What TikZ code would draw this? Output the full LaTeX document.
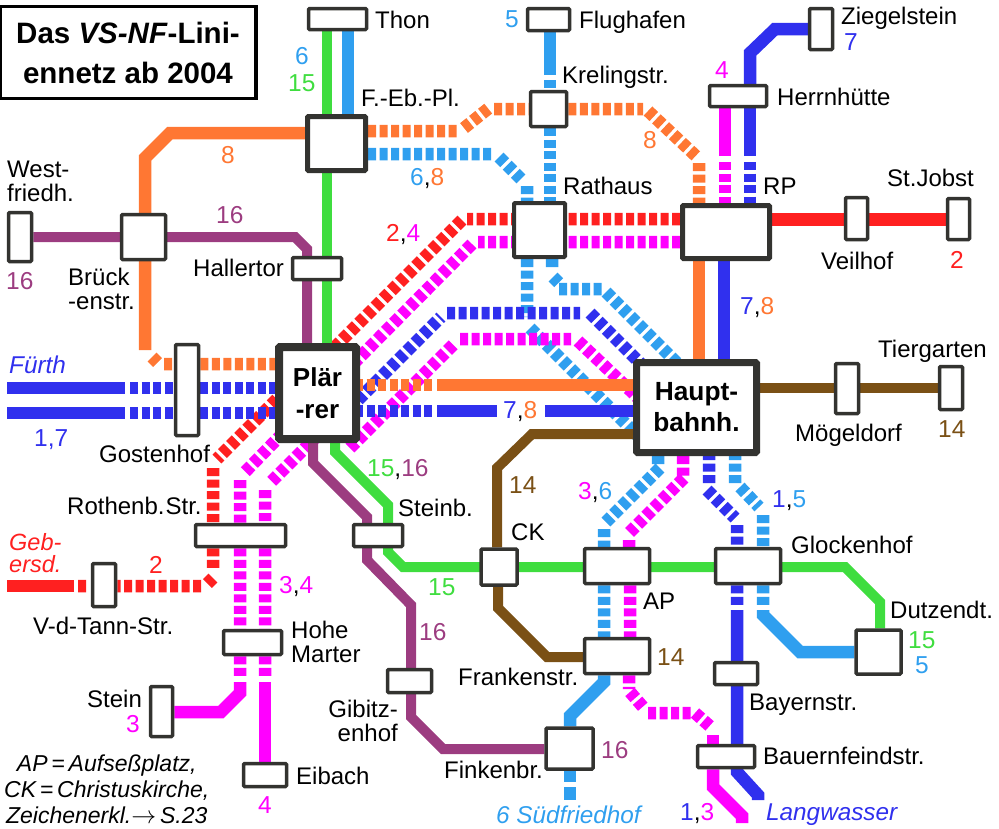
\documentclass[tikz,border=0pt]{standalone}
\usepackage{fontspec}
\setmainfont{Liberation Sans}
\definecolor{cred}{HTML}{FF2020}
\definecolor{cmag}{HTML}{FF00FF}
\definecolor{cblue}{HTML}{3030EE}
\definecolor{csky}{HTML}{2F9FEF}
\definecolor{corange}{HTML}{FF7733}
\definecolor{cgreen}{HTML}{3FDD3F}
\definecolor{cpurple}{HTML}{9C3C80}
\definecolor{cbrown}{HTML}{7A5015}
\definecolor{cframe}{HTML}{333330}
\pgfdeclarelayer{lines}
\pgfsetlayers{lines,main}
\tikzset{
  stn/.style 2 args={draw=cframe,fill=white,line width=3.5pt,rounded corners=1pt,inner sep=0pt,
    minimum width=#1pt,minimum height=#2pt},
  lab/.style={anchor=base west,inner sep=0pt,font=\fontsize{24}{24}\selectfont},
  ital/.style={anchor=base west,inner sep=0pt,font=\fontsize{24.3}{24}\selectfont\itshape},
  num/.style={anchor=base west,inner sep=0pt,font=\fontsize{24.5}{24}\selectfont},
  wide/.style={line width=12.5pt},
  narrow/.style={line width=10pt},
  tunnel/.style={line width=12.5pt,dash pattern=on 8pt off 3.5pt},
}
\begin{document}
\begin{tikzpicture}[x=1pt,y=-1pt]
  \useasboundingbox (0,0) rectangle (999,828);

  \node[draw=black,line width=3.5pt,minimum width=256pt,minimum height=92pt,align=center,inner sep=0pt,
    font=\fontsize{29.5}{40}\selectfont\bfseries] (title) at (128,52.5) {Das \textit{VS-NF}-Lini-\\ennetz ab 2004};

  \node[stn={58}{21}] (thon) at (337.5,19) {};
  \node[stn={42}{22}] (flug) at (548.5,19.5) {};
  \node[stn={23}{41}] (zieg) at (821,29) {};
  \node[stn={57}{21}] (herrn) at (738,96) {};
  \node[stn={36}{35}] (krel) at (548.5,109) {};
  \node[stn={58}{54},line width=5pt] (feb) at (336.5,143.5) {};
  \node[stn={23}{49}] (west) at (20,237) {};
  \node[stn={44}{45}] (brueck) at (143.5,237) {};
  \node[stn={49}{22}] (hall) at (317,268.5) {};
  \node[stn={51}{54},line width=4pt] (rath) at (539.5,230) {};
  \node[stn={87}{53},line width=5pt] (rp) at (726,232) {};
  \node[stn={22}{42}] (veil) at (856.5,218.5) {};
  \node[stn={22}{41}] (jobst) at (958.5,219) {};
  \node[stn={77}{92},line width=8pt,align=center,font=\fontsize{26}{32}\selectfont\bfseries] (plaer) at (317.5,393) {Plär\\-rer};
  \node[stn={23}{91}] (gost) at (187,390) {};
  \node[stn={120}{90},line width=7pt,align=center,font=\fontsize{26.3}{31}\selectfont\bfseries] (hbf) at (696.5,407.5) {Haupt-\\bahnh.};
  \node[stn={23}{50}] (moeg) at (847,388.5) {};
  \node[stn={23}{43}] (tier) at (951,388) {};
  \node[stn={90}{22}] (roth) at (240.5,535.5) {};
  \node[stn={49}{22}] (stb) at (378,535.5) {};
  \node[stn={36}{36}] (ck) at (499,567) {};
  \node[stn={65}{35}] (ap) at (617,566) {};
  \node[stn={65}{35}] (glock) at (748,566) {};
  \node[stn={45}{44}] (dutz) at (878.5,652) {};
  \node[stn={65}{35}] (frank) at (617,656) {};
  \node[stn={43}{22}] (bay) at (736,673.5) {};
  \node[stn={57}{22}] (bauern) at (726,756.5) {};
  \node[stn={47}{41}] (fink) at (569.5,748.5) {};
  \node[stn={44}{23}] (gib) at (409.5,681) {};
  \node[stn={23}{43}] (tann) at (104,585) {};
  \node[stn={58}{24}] (hohe) at (252.5,642.5) {};
  \node[stn={22}{50}] (stein) at (161.5,711.5) {};
  \node[stn={43}{23}] (eib) at (265,775) {};

  \coordinate (fuerthA) at (7,388);
  \coordinate (fuerthB) at (7,413);
  \coordinate (gebersd) at (7,586);
  \coordinate (suedfr) at (570,800);

  \begin{pgfonlayer}{lines}
    \draw[wide,csky] (thon.south -| 348,0) -- (feb.north -| 348,0);
    \draw[wide,csky] (flug.south -| 550,0) -- (550,75);
    \draw[tunnel,csky] (550,80) -- (krel.north -| 550,0) (krel.south -| 550,0) -- (rath.north -| 550,0);
    \draw[tunnel,csky] (rath.south -| 552,0) -- (552,270) (553,277) -- (559,283) (559,289) -- (601.5,289)
      (606,292) -- (hbf.north -| 673,0) -- ++(10,10);
    \draw[tunnel,csky] (feb.east |- 0,154) -- (494,154) (499,157) -- (523,181) (527,186) -- (rath.north -| 527,0);
    \draw[tunnel,csky] (rath.south -| 527,0) -- (527,317) (530,328) -- (hbf.west |- 0,431) -- ++(10,10);
    \draw[tunnel,csky] (hbf.south -| 658,0) -- (658,464) (660,468) -- (606,522) (604,529) -- (ap.north -| 604,0)
      (ap.south -| 604,0) -- (frank.north -| 604,0);
    \draw[wide,csky] (frank.south -| 604,0) -- (604,682) -- (570,716) -- (fink.north -| 570,0);
    \draw[wide,csky] (fink.south -| 570,0) -- (570,782) (570,787) -- (suedfr);
    \draw[tunnel,csky] (hbf.south -| 735,0) ++(0,-4) -- (735,484) (740,487) -- (759,507) (763,515) -- (glock.north -| 763,0)
      (glock.south -| 763,0) -- (763,605);
    \draw[wide,csky] (763,610) -- (763,615) -- (800,652) -- (dutz.west |- 0,652);

    \draw[wide,cmag] (herrn.south -| 725,0) -- (725,156);
    \draw[tunnel,cmag] (725,162) -- (rp.north -| 725,0);
    \draw[tunnel,cmag] (rp.west |- 0,242) -- (478,242) (472,244) -- (plaer.east |- 0,357) -- ++(-10,10);
    \draw[tunnel,cmag] (plaer.south -| 273,0) ++(10,-10) -- (245,472) (240,480) -- (roth.north -| 240,0)
      (roth.south -| 240,0) -- (hohe.north -| 240,0) (hohe.south -| 240,0) -- (240,676);
    \draw[wide,cmag] (240,682) -- (240,693) -- (221,712) -- (stein.east |- 0,712);
    \draw[tunnel,cmag] (plaer.south -| 310,0) ++(8,-8) -- (270,483) (265,490) -- (roth.north -| 265,0)
      (roth.south -| 265,0) -- (hohe.north -| 265,0) (hohe.south -| 265,0) -- (265,676);
    \draw[wide,cmag] (265,682) -- (eib.north -| 265,0);
    \draw[tunnel,cmag] (plaer.east |- 0,438) ++(-10,10) -- (455,343) (460,339) -- (571,339)
      (578,341) -- (hbf.west |- 0,393) -- ++(10,10);
    \draw[tunnel,cmag] (hbf.south -| 683,0) -- (683,475.5) (684,478) -- (628,534) (629,540) -- (ap.north -| 629,0)
      (ap.south -| 630,0) -- (frank.north -| 630,0) (frank.south -| 629,0) -- (629,689) (630,692) -- (643,707)
      (648,713) -- (690.5,713) (695,713) -- (712,728);
    \draw[wide,cmag] (713,735) -- (bauern.north -| 713,0);
    \draw[wide,cmag] (bauern.south -| 713,0) -- (713,787) -- (742,816) -- (742,823);

    \draw[tunnel,cred] (rp.west |- 0,219) -- (467,219) (462,220) -- (plaer.north -| 339,0) -- ++(-10,10);
    \draw[tunnel,cred] (plaer.west |- 0,401) ++(10,-10) -- (217,459) (213,468) -- (roth.north -| 213,0)
      (roth.south -| 213,0) -- (213,568) (213,578) -- (207.5,583.5) (201,586) -- (tann.east |- 0,586)
      (78,586) -- (86,586);
    \draw[wide,cred] (74,586) -- (gebersd);
    \draw[wide,cred] (rp.east |- 0,219.5) -- (jobst.west |- 0,219.5);

    \draw[tunnel,cblue] (plaer.east |- 0,398) ++(-10,10) -- (441,317) (447,313) -- (580,313)
      (590,313) -- (hbf.west |- 0,356) -- ++(10,10);
    \draw[wide,cblue] (fuerthA) -- (125,388);
    \draw[tunnel,cblue] (130,388) -- (gost.west |- 0,388) (gost.east |- 0,388) -- (plaer.west |- 0,388);
    \draw[wide,cblue] (fuerthB) -- (125,413);
    \draw[tunnel,cblue] (130,413) -- (gost.west |- 0,413) (gost.east |- 0,413) -- (plaer.west |- 0,413);
    \draw[tunnel,cblue] (plaer.east |- 0,411) ++(-5,0) -- (432,411);
    \draw[wide,cblue] (437,411) -- (497,411) (545,411) -- (hbf.west |- 0,411);
    \draw[wide,cblue] (zieg.west |- 0,29) -- (775,29) -- (750,53) -- (herrn.north -| 750,0);
    \draw[wide,cblue] (herrn.south -| 750,0) -- (750,156);
    \draw[tunnel,cblue] (750,162) -- (rp.north -| 750,0);
    \draw[wide,cblue] (rp.south -| 724,0) -- (hbf.north -| 724,0);
    \draw[tunnel,cblue] (hbf.south -| 709,0) ++(0,-4) -- (709,483) (707,490) -- (735,518) (737,525) -- (glock.north -| 737,0)
      (glock.south -| 737,0) -- (737,605);
    \draw[wide,cblue] (737,610) -- (737,772) -- (758,795) -- (758,800);

    \draw[wide,corange] (feb.west |- 0,133) -- (170,133) -- (145,158) -- (145,350);
    \draw[tunnel,corange] (152,357) -- (157.5,362.5) (164,364) -- (gost.west |- 0,364)
      (gost.east |- 0,364) -- (plaer.west |- 0,364);
    \draw[tunnel,corange] (feb.east |- 0,131) -- (457,131) (464,128) -- (489,108) (494,109) -- (krel.west |- 0,109)
      (krel.east |- 0,109) -- (643,109) (648,111) -- (697,157) (699,163) -- (rp.north -| 699,0);
    \draw[wide,corange] (rp.south -| 699,0) -- (hbf.north -| 699,0);
    \draw[tunnel,corange] (plaer.east |- 0,385) ++(-5,0) -- (432,385);
    \draw[wide,corange] (437,385) -- (hbf.west |- 0,385);

    \draw[narrow,cgreen] (thon.south -| 327,0) -- (plaer.north -| 327,0);
    \draw[narrow,cgreen] (plaer.south -| 335,0) -- (335,452) -- (388,505) -- (388,552) -- (403,567)
      -- (845,567) -- (880,602) -- (dutz.north -| 880,0);
    \draw[narrow,cpurple] (west.east |- 0,237) -- (295,237) -- (307,249) -- (plaer.north -| 307,0);
    \draw[narrow,cpurple] (plaer.south -| 313,0) -- (313,463) -- (367,517) -- (367,560) -- (411,605) -- (411,717)
      -- (443,749) -- (fink.west |- 0,749);
    \draw[narrow,cbrown] (hbf.west |- 0,434) -- (532,434) -- (497,468) -- (ck.north -| 497,0);
    \draw[narrow,cbrown] (ck.south -| 498,0) -- (498,608) -- (547,657) -- (frank.west |- 0,657);
    \draw[narrow,cbrown] (hbf.east |- 0,388) -- (tier.west |- 0,388);
  \end{pgfonlayer}

  \node[lab] (thonlab) at (375,28) {Thon};
  \node[lab] (feblab) at (361,106) {F.-Eb.-Pl.};
  \node[lab,align=left] (westlab) at (7,201) {West-\\friedh.};
  \node[lab,align=left] (bruecklab) at (68,309) {Brück\\-enstr.};
  \node[lab] (halllab) at (193,276) {Hallertor};
  \node[lab] (fluglab) at (579,28) {Flughafen};
  \node[lab] (krellab) at (562,83) {Krelingstr.};
  \node[lab] (rathlab) at (563,194) {Rathaus};
  \node[lab] (herrnlab) at (777,105) {Herrnhütte};
  \node[lab] (zieglab) at (841,24) {Ziegelstein};
  \node[lab] (rplab) at (763,194) {RP};
  \node[lab] (jobstlab) at (887,186) {St.Jobst};
  \node[lab] (veillab) at (821,269) {Veilhof};
  \node[lab] (tierlab) at (878,357) {Tiergarten};
  \node[lab] (moeglab) at (795,441) {Mögeldorf};
  \node[lab] (gostlab) at (99,462) {Gostenhof};
  \node[lab] (rothlab) at (67,514) {Rothenb.\kern1pt Str.};
  \node[lab] (stblab) at (398,516) {Steinb.};
  \node[lab] (cklab) at (511,540) {CK};
  \node[lab] (glocklab) at (791,553) {Glockenhof};
  \node[lab] (tannlab) at (33,634) {V-d-Tann-Str.};
  \node[lab,align=left] (hohelab) at (291,662) {Hohe\\Marter};
  \node[lab] (aplab) at (643,609) {AP};
  \node[lab] (dutzlab) at (890,618) {Dutzendt.};
  \node[lab] (franklab) at (458,685) {Frankenstr.};
  \node[lab] (baylab) at (749,710) {Bayernstr.};
  \node[lab] (bauernlab) at (763,764) {Bauernfeindstr.};
  \node[lab,align=right,anchor=base east] (giblab) at (398,741) {Gibitz-\\enhof};
  \node[lab] (finklab) at (444,778) {Finkenbr.};
  \node[lab] (steinlab) at (87,707) {Stein};
  \node[lab] (eiblab) at (296,784) {Eibach};

  \node[ital,cblue] (fuerthlab) at (9,373) {Fürth};
  \node[ital,cred,align=left,font=\fontsize{23.5}{22}\selectfont\itshape] (geblab) at (9,572) {Geb-\\ersd.};
  \node[ital,csky] (suedlab) at (496,823) {6 Südfriedhof};
  \node[ital,cblue] (langlab) at (766,820) {Langwasser};
  \node[ital,align=center,font=\fontsize{23}{26}\selectfont\itshape] (notelab) at (4,823)
    {AP\,=\,Aufseßplatz,\\CK\,=\,Christuskirche,\\Zeichenerkl.$\rightarrow$\,S.23};

  \node[num,csky] (nA) at (295,64) {6};
  \node[num,cgreen] (nB) at (288,91) {15};
  \node[num,corange] (nC) at (221,163) {8};
  \node[num] (nD) at (410,185) {\textcolor{csky}{6},\textcolor{corange}{8}};
  \node[num,cpurple] (nE) at (216,223) {16};
  \node[num,cpurple] (nF) at (6,289) {16};
  \node[num] (nG) at (386,241) {\textcolor{cred}{2},\textcolor{cmag}{4}};
  \node[num,csky] (nH) at (505,27) {5};
  \node[num,corange] (nI) at (643,148) {8};
  \node[num,cblue] (nJ) at (844,50) {7};
  \node[num,cmag] (nK) at (715,78) {4};
  \node[num,cred] (nL) at (950,268) {2};
  \node[num] (nM) at (740,314) {\textcolor{cblue}{7},\textcolor{corange}{8}};
  \node[num,cbrown] (nN) at (938,437) {14};
  \node[num,cblue] (nO) at (34,446) {1,7};
  \node[num] (nP) at (367,476) {\textcolor{cgreen}{15},\textcolor{cpurple}{16}};
  \node[num] (nQ) at (503,418) {\textcolor{cblue}{7},\textcolor{corange}{8}};
  \node[num,cbrown] (nR) at (509,493) {14};
  \node[num] (nS) at (578,499) {\textcolor{cmag}{3},\textcolor{csky}{6}};
  \node[num] (nT) at (772,507) {\textcolor{cblue}{1},\textcolor{csky}{5}};
  \node[num,cred] (nU) at (149,573) {2};
  \node[num] (nV) at (279,593) {\textcolor{cmag}{3},\textcolor{cmag}{4}};
  \node[num,cgreen] (nW) at (428,595) {15};
  \node[num,cpurple] (nX) at (419,640) {16};
  \node[num,cgreen] (nY) at (908,648) {15};
  \node[num,csky] (nZ) at (915,673) {5};
  \node[num,cbrown] (nAa) at (657,665) {14};
  \node[num,cpurple] (nAb) at (601,758) {16};
  \node[num,cmag] (nAc) at (126,732) {3};
  \node[num,cmag] (nAd) at (258,813) {4};
  \node[num] (nAe) at (680,820) {\textcolor{cblue}{1},\textcolor{cmag}{3}};
\end{tikzpicture}
\end{document}
